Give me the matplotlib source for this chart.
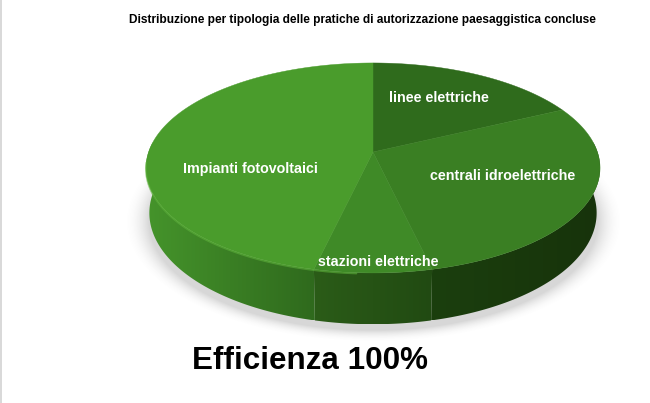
import numpy as np
import matplotlib
matplotlib.use("Agg")
import matplotlib.pyplot as plt
from matplotlib.patches import Polygon, Rectangle

title = "Distribuzione per tipologia delle pratiche di autorizzazione paesaggistica concluse"
footer = "Efficienza 100%"
categories = ["linee elettriche", "centrali idroelettriche", "stazioni elettriche", "Impianti fotovoltaici"]
values = [17.8, 28.6, 7.2, 46.4]
face_colors = ["#2f6b1c", "#3a7f23", "#3f8a27", "#4a9c2c"]
side_left = ["#1c3f0f", "#1b3f0e", "#2b5c18", "#45942b"]
side_right = ["#1c3f0f", "#17330b", "#214a12", "#2f6a1d"]
label_xy = [(439, 98.5), (503, 176.5), (378, 261.5), (250, 168.5)]

W, H = 650, 403
CX, CY, A, B, C, K = 373.0, 168.0, 224.4, 105.0, 16.0, 0.152


def project(theta, a_scale=1.0, b_scale=1.0, dy=0.0, r=1.0):
    """theta clockwise from the top of the disc -> pixel coordinates."""
    x, y = r * np.sin(theta), r * np.cos(theta)
    d = 1 + K * y
    return CX + a_scale * A * x / d, CY + dy - b_scale * (B * y + C) / d


fig = plt.figure(figsize=(W / 100, H / 100), dpi=100)
ax = fig.add_axes([0, 0, 1, 1])
ax.axis("off")

# page edge
ax.add_patch(Rectangle((0, 0), 2.2, H, color="#d9d9d9", lw=0))

# soft shadow beneath the disc
yy, xx = np.mgrid[0:H, 0:W]
dist = np.hypot((xx - 373) / 229, (yy - 221) / 111)
shadow = np.zeros((H, W, 4))
shadow[..., :3] = 0.45
shadow[..., 3] = 0.28 * np.clip((1.09 - dist) / 0.11, 0, 1) ** 2
ax.imshow(shadow, extent=(0, W, H, 0), aspect="auto", zorder=1)

edges = np.radians(np.concatenate([[0], np.cumsum(values)]) * 3.6)

# side wall, visible front part only
for i in range(len(values)):
    t0, t1 = max(edges[i], np.pi * 0.47), min(edges[i + 1], np.pi * 1.53)
    if t1 <= t0:
        continue
    th = np.linspace(t0, t1, 120)
    tx, ty = project(th)
    bx, by = project(th, 0.985, 1.06, 45)
    verts = np.r_[np.c_[tx, ty], np.c_[bx, by][::-1]]
    xmin, xmax = verts[:, 0].min(), verts[:, 0].max()
    cl = np.array(matplotlib.colors.to_rgb(side_left[i]))
    cr = np.array(matplotlib.colors.to_rgb(side_right[i]))
    f = np.linspace(0, 1, 128)[None, :, None]
    grad = cl[None, None, :] * (1 - f) + cr[None, None, :] * f
    im = ax.imshow(grad, extent=(xmin, xmax, verts[:, 1].max(), verts[:, 1].min()),
                   aspect="auto", zorder=2, interpolation="bilinear")
    poly = Polygon(verts, closed=True, transform=ax.transData, fc="none", ec="none")
    ax.add_patch(poly)
    im.set_clip_path(poly)

# top face
apex = project(np.array([0.0]), r=0.0)
for i, col in enumerate(face_colors):
    th = np.linspace(edges[i], edges[i + 1], 200)
    tx, ty = project(th)
    verts = np.r_[[[apex[0][0], apex[1][0]]], np.c_[tx, ty]]
    ax.add_patch(Polygon(verts, closed=True, fc=col, ec=col, lw=0.3, zorder=3))

# bevel highlight on the front left of the rim
th = np.linspace(np.pi * 1.02, np.pi * 1.47, 120)
tx, ty = project(th)
ax.plot(tx, ty + 0.8, color="#5cb03a", lw=1.3, alpha=0.6, zorder=4, solid_capstyle="round")

for name, (lx, ly) in zip(categories, label_xy):
    ax.text(lx, ly, name, color="white", fontsize=10.3, fontweight="bold",
            family=["Liberation Sans", "DejaVu Sans"], ha="center", va="center", zorder=5)

ax.text(362, 19.5, title, color="black", fontsize=8.6, fontweight="bold",
        family=["Liberation Sans", "DejaVu Sans"], ha="center", va="center", zorder=5)
ax.text(310.5, 361, footer, color="black", fontsize=22.6, fontweight="bold",
        family=["Liberation Sans", "DejaVu Sans"], ha="center", va="center", zorder=5)

ax.set_xlim(0, W)
ax.set_ylim(H, 0)
fig.savefig("out.png", dpi=100, facecolor="white")
